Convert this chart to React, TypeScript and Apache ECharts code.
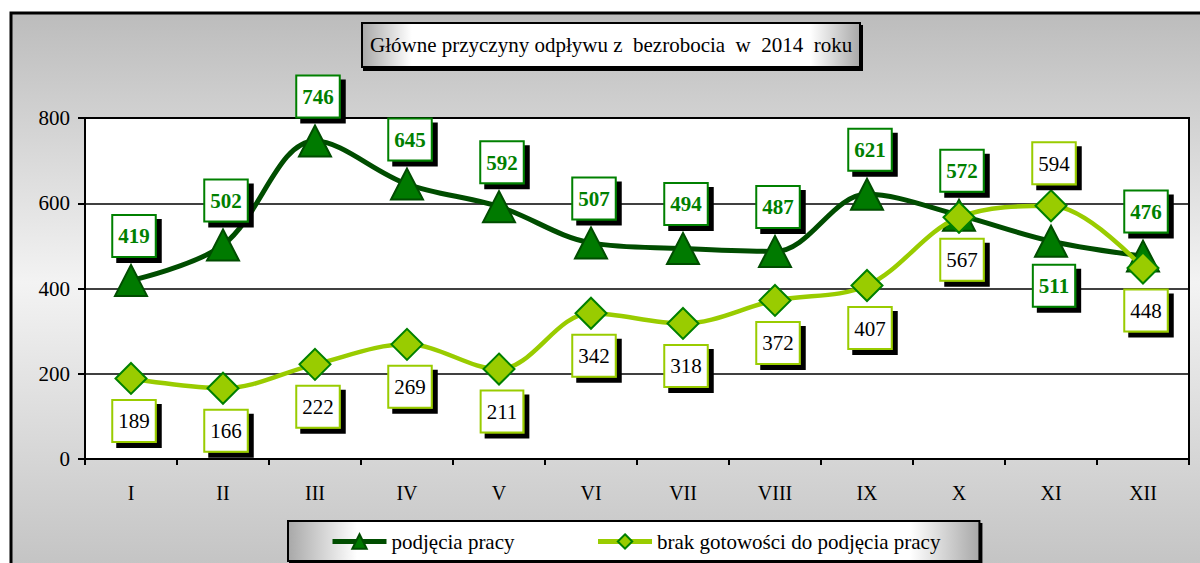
import React, { useEffect, useRef } from 'react';
import * as echarts from 'echarts';

const categories = ['I', 'II', 'III', 'IV', 'V', 'VI', 'VII', 'VIII', 'IX', 'X', 'XI', 'XII'];
const podjeciaPracy = [419, 502, 746, 645, 592, 507, 494, 487, 621, 572, 511, 476];
const brakGotowosci = [189, 166, 222, 269, 211, 342, 318, 372, 407, 567, 594, 448];
const yMin = 0;
const yMax = 800;
const yStep = 200;
const seriesNames = ['podjęcia pracy', 'brak gotowości do podjęcia pracy'];
const titleText = 'Główne przyczyny odpływu z  bezrobocia  w  2014  roku';
const flippedLabelIndex = [10];

const FONT = 'Liberation Serif';

const silver = () =>
  new echarts.graphic.LinearGradient(0, 0, 1, 0, [
    { offset: 0, color: '#a8a8a8' },
    { offset: 0.1, color: '#ffffff' },
    { offset: 0.9, color: '#ffffff' },
    { offset: 1, color: '#a8a8a8' },
  ]);

export default function App() {
  const ref = useRef<HTMLDivElement>(null);
  useEffect(() => {
    if (!ref.current) return;
    const chart = echarts.init(ref.current, null, { renderer: 'svg' });

    const labelBase = {
      show: true,
      fontFamily: FONT,
      fontSize: 21,
      lineHeight: 21,
      backgroundColor: '#ffffff',
      borderWidth: 2,
      padding: [10, 5, 9, 5],
      shadowColor: '#000000',
      shadowBlur: 0,
      shadowOffsetX: 5,
      shadowOffsetY: 5,
      offset: [3, 0],
    };

    const workData = podjeciaPracy.map((v, i) => ({
      value: v,
      label: { position: flippedLabelIndex.includes(i) ? 'bottom' : 'top' },
    }));
    const notReadyData = brakGotowosci.map((v, i) => ({
      value: v,
      label: { position: flippedLabelIndex.includes(i) ? 'top' : 'bottom' },
    }));

    const option: any = {
      animation: false,
      textStyle: { fontFamily: FONT },
      graphic: [
        {
          type: 'rect',
          z: -100,
          shape: { x: 11, y: 13, width: 1250, height: 600 },
          style: {
            fill: new echarts.graphic.LinearGradient(0, 0, 0, 1, [
              { offset: 0, color: '#bcbcbc' },
              { offset: 0.45, color: '#f3f3f3' },
              { offset: 0.92, color: '#c4c4c4' },
              { offset: 1, color: '#c0c0c0' },
            ]),
            stroke: '#000000',
            lineWidth: 3,
          },
          silent: true,
        },
      ],
      title: {
        text: titleText,
        left: 362,
        top: 23,
        padding: [11, 8, 12, 8],
        backgroundColor: silver(),
        borderColor: '#000000',
        borderWidth: 2,
        shadowColor: '#000000',
        shadowBlur: 0,
        shadowOffsetX: 2,
        shadowOffsetY: 3,
        textStyle: { fontFamily: FONT, fontSize: 21, fontWeight: 'normal', color: '#000000' },
      },
      legend: {
        left: 288,
        top: 521,
        padding: [10, 39, 9, 42],
        itemGap: 81,
        itemWidth: 54,
        itemHeight: 18,
        lineStyle: { width: 5 },
        backgroundColor: silver(),
        borderColor: '#000000',
        borderWidth: 2,
        shadowColor: '#000000',
        shadowBlur: 0,
        shadowOffsetX: 2,
        shadowOffsetY: 3,
        textStyle: { fontFamily: FONT, fontSize: 21, color: '#000000' },
        data: seriesNames,
      },
      grid: {
        left: 85,
        right: 11,
        top: 118,
        bottom: 104,
        show: true,
        backgroundColor: '#ffffff',
        borderColor: '#000000',
        borderWidth: 2,
      },
      xAxis: {
        type: 'category',
        data: categories,
        boundaryGap: true,
        axisLine: { lineStyle: { color: '#000000', width: 2 } },
        axisTick: { show: true, alignWithLabel: false, length: 6, lineStyle: { color: '#000000', width: 2 } },
        axisLabel: { fontFamily: FONT, fontSize: 20, color: '#000000', margin: 24 },
        splitLine: { show: false },
      },
      yAxis: {
        type: 'value',
        min: yMin,
        max: yMax,
        interval: yStep,
        axisLine: { show: true, lineStyle: { color: '#000000', width: 2 } },
        axisTick: { show: true, length: 7, lineStyle: { color: '#000000', width: 2 } },
        axisLabel: { fontFamily: FONT, fontSize: 21, color: '#000000', margin: 15 },
        splitLine: { show: true, lineStyle: { color: '#000000', width: 1.5 } },
      },
      series: [
        {
          name: seriesNames[0],
          type: 'line',
          smooth: 0.35,
          data: workData,
          symbol: 'triangle',
          symbolSize: [32, 31],
          lineStyle: { color: '#004d00', width: 5 },
          itemStyle: { color: '#007a00', borderColor: '#004d00', borderWidth: 2 },
          label: {
            ...labelBase,
            distance: 8,
            color: '#008000',
            fontWeight: 'bold',
            borderColor: '#008000',
          },
          z: 3,
        },
        {
          name: seriesNames[1],
          type: 'line',
          smooth: 0.35,
          data: notReadyData,
          symbol: 'diamond',
          symbolSize: 31,
          lineStyle: { color: '#99cc00', width: 4.5 },
          itemStyle: { color: '#99cc00', borderColor: '#008000', borderWidth: 2 },
          label: {
            ...labelBase,
            distance: 6,
            color: '#000000',
            fontWeight: 'normal',
            borderColor: '#99cc00',
          },
          z: 4,
        },
      ],
    };
    chart.setOption(option);
    return () => chart.dispose();
  }, []);

  return (
    <div
      ref={ref}
      style={{ position: 'fixed', left: 0, top: 0, width: 1200, height: 563, background: '#ffffff' }}
    />
  );
}
